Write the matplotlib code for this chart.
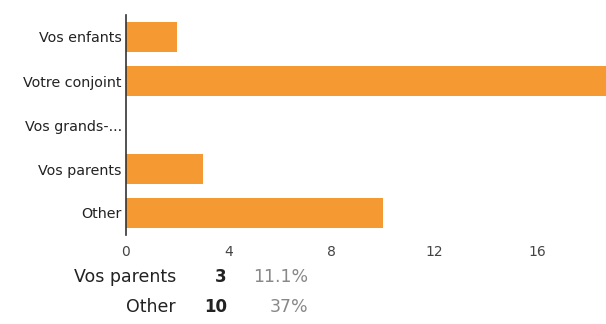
import matplotlib
matplotlib.use("Agg")
import matplotlib.pyplot as plt

plt.rcParams['font.family'] = ['DejaVu Sans']

# Answers (bar chart) - "Votre conjoint" runs off the right edge in the source
categories = ['Vos enfants', 'Votre conjoint', 'Vos grands-...', 'Vos parents', 'Other']
counts = [2, 22, 0, 3, 10]
xticks = [0, 4, 8, 12, 16]

# Summary rows printed under the chart
summary_labels = ['Vos parents', 'Other']
summary_counts = ['3', '10']
summary_pcts = ['11.1%', '37%']

W, H = 606, 324
fig = plt.figure(figsize=(W / 100, H / 100), dpi=100)
ax = fig.add_axes([126 / W, (H - 235) / H, (W - 126) / W, 220 / H])

ypos = range(len(categories))
ax.barh(ypos, counts, height=0.7, color='#F59A32')
ax.set_ylim(len(categories) - 0.5, -0.5)
ax.set_xlim(0, 18.68)

ax.set_yticks(list(ypos))
ax.set_yticklabels(categories, fontsize=10.3, color='#222222')
ax.set_xticks(xticks)
ax.set_xticklabels([str(t) for t in xticks], fontsize=10, color='#444444')
ax.tick_params(length=0, pad=3)
ax.tick_params(axis='x', pad=7)

for s in ['top', 'right', 'bottom']:
    ax.spines[s].set_visible(False)
ax.spines['left'].set_color('#333333')
ax.spines['left'].set_linewidth(1.2)

# summary text below
rows_y = [277, 307]
for lab, cnt, pct, y in zip(summary_labels, summary_counts, summary_pcts, rows_y):
    fy = 1 - y / H
    fig.text(176 / W, fy, lab, ha='right', va='center', fontsize=12.5, color='#222222')
    fig.text(227 / W, fy, cnt, ha='right', va='center', fontsize=12, color='#222222',
             fontweight='bold')
    fig.text(308 / W, fy, pct, ha='right', va='center', fontsize=12.5, color='#888888')

fig.savefig('out.png', dpi=100)
